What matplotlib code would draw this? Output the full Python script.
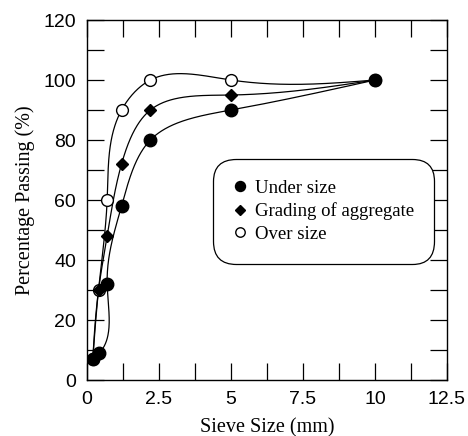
import numpy as np
import matplotlib
matplotlib.use("Agg")
import matplotlib.pyplot as plt

sieve_size = [0.2, 0.4, 0.7, 1.2, 2.2, 5.0, 10.0]
under_x = [0.2, 0.43, 0.7, 1.2, 2.2, 5.0, 10.0]
under_size = [7, 9, 32, 58, 80, 90, 100]
grading = [7, 30, 48, 72, 90, 95, 100]
over_size = [7, 30, 60, 90, 100, 100, 100]

x_ticks = [0, 2.5, 5, 7.5, 10, 12.5]
x_tick_labels = ["0", "2.5", "5", "7.5", "10", "12.5"]
y_ticks = [0, 20, 40, 60, 80, 100, 120]


def natural_spline(t, v, tt):
    n = len(t)
    h = np.diff(t)
    a = np.zeros((n, n))
    b = np.zeros(n)
    a[0, 0] = a[-1, -1] = 1
    for i in range(1, n - 1):
        a[i, i - 1] = h[i - 1]
        a[i, i] = 2 * (h[i - 1] + h[i])
        a[i, i + 1] = h[i]
        b[i] = 6 * ((v[i + 1] - v[i]) / h[i] - (v[i] - v[i - 1]) / h[i - 1])
    m = np.linalg.solve(a, b)
    out = np.empty_like(tt)
    for k, s in enumerate(tt):
        i = min(np.searchsorted(t, s, side="right") - 1, n - 2)
        d = s - t[i]
        c = (v[i + 1] - v[i]) / h[i] - h[i] * (2 * m[i] + m[i + 1]) / 6
        out[k] = v[i] + c * d + m[i] / 2 * d ** 2 + (m[i + 1] - m[i]) / (6 * h[i]) * d ** 3
    return out


def smooth_curve(x, y, sx=28.8, sy=3.0):
    # parametric spline, chord length measured in pixels
    x = np.asarray(x, float)
    y = np.asarray(y, float)
    seg = np.hypot(np.diff(x) * sx, np.diff(y) * sy)
    t = np.concatenate([[0], np.cumsum(seg)])
    tt = np.linspace(0, t[-1], 600)
    return natural_spline(t, x, tt), natural_spline(t, y, tt)


fig = plt.figure(figsize=(4.68, 4.36), dpi=100)
ax = fig.add_axes([0.1859, 0.1284, 0.7692, 0.8257])

for xs, ys in [(under_x, under_size), (sieve_size, grading), (sieve_size, over_size)]:
    cx, cy = smooth_curve(xs, ys)
    ax.plot(cx, cy, color="black", lw=0.9, zorder=2)

ax.plot(sieve_size, over_size, "o", ms=8.5, mfc="white", mec="black", mew=1.0,
        ls="none", label="Over size", zorder=3)
ax.plot(sieve_size, grading, "D", ms=6.5, color="black", ls="none",
        label="Grading of aggregate", zorder=4)
ax.plot(under_x, under_size, "o", ms=9, color="black", ls="none",
        label="Under size", zorder=5)

ax.set_xlim(0, 12.5)
ax.set_ylim(0, 120)
ax.set_xticks(x_ticks)
ax.set_xticklabels(x_tick_labels)
ax.set_yticks(y_ticks)
ax.set_xticks(np.arange(0, 12.6, 1.25), minor=True)
ax.set_yticks(np.arange(0, 121, 10), minor=True)
ax.tick_params(which="both", direction="in", top=True, right=True,
               length=12, width=0.9, labelsize=14, pad=8)
for lab in ax.get_xticklabels() + ax.get_yticklabels():
    lab.set_family("Liberation Sans")
for sp in ax.spines.values():
    sp.set_linewidth(1.0)

ax.set_xlabel("Sieve Size (mm)", family="Liberation Serif", fontsize=14.5, labelpad=7)
ax.set_ylabel("Percentage Passing (%)", family="Liberation Serif", fontsize=14.5, labelpad=6)

h, l = ax.get_legend_handles_labels()
order = [2, 1, 0]
leg = ax.legend([h[i] for i in order], [l[i] for i in order],
                loc="upper left", bbox_to_anchor=(0.325, 0.64),
                prop={"family": "Liberation Serif", "size": 13.5},
                markerscale=0.8, handlelength=0.6, handletextpad=0.5,
                labelspacing=0.3, borderpad=1.1, fancybox=True, framealpha=1,
                edgecolor="black")
leg.get_frame().set_linewidth(0.9)
leg.get_frame().set_boxstyle("round,pad=0,rounding_size=1.2")

fig.savefig("out.png", dpi=100)
